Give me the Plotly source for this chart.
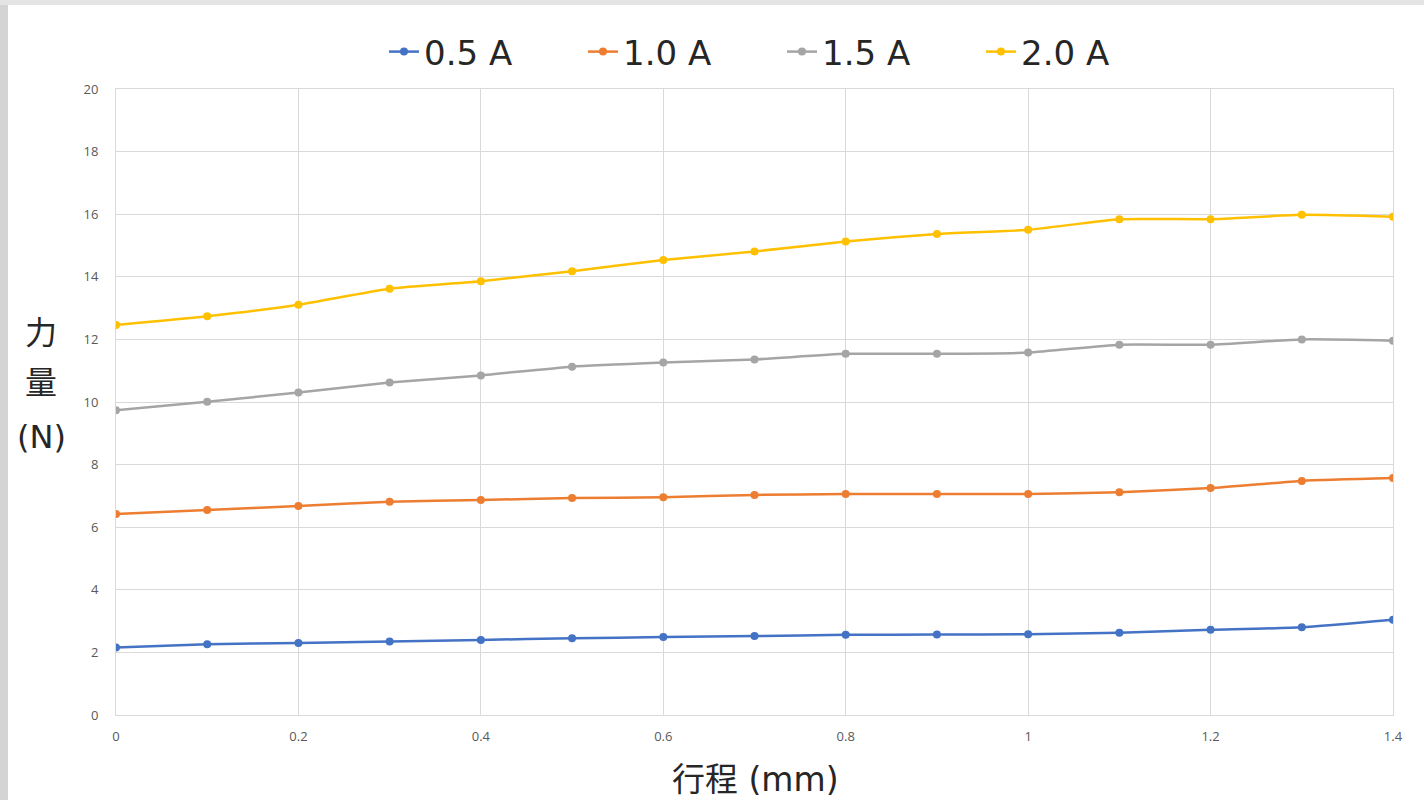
import plotly.graph_objects as go

stroke_mm = [0, 0.1, 0.2, 0.3, 0.4, 0.5, 0.6, 0.7, 0.8, 0.9, 1.0, 1.1, 1.2, 1.3, 1.4]
force_05A = [2.16, 2.26, 2.30, 2.35, 2.40, 2.45, 2.49, 2.52, 2.56, 2.57, 2.58, 2.63, 2.72, 2.80, 3.04]
force_10A = [6.42, 6.55, 6.68, 6.81, 6.87, 6.93, 6.96, 7.03, 7.06, 7.06, 7.06, 7.12, 7.25, 7.48, 7.57]
force_15A = [9.74, 10.01, 10.30, 10.62, 10.85, 11.13, 11.26, 11.36, 11.54, 11.54, 11.58, 11.83, 11.83, 12.00, 11.96]
force_20A = [12.46, 12.74, 13.11, 13.62, 13.86, 14.18, 14.54, 14.81, 15.13, 15.37, 15.50, 15.84, 15.84, 15.98, 15.92]

series_names = ["0.5 A", "1.0 A", "1.5 A", "2.0 A"]
series_values = [force_05A, force_10A, force_15A, force_20A]
colors = ["#4472C4", "#ED7D31", "#A5A5A5", "#FFC000"]
y_title_parts = ["力", "量", "(N)"]

W, H = 1424, 800
ML, MR, MT, MB = 116, 31, 89, 85
PW, PH = W - ML - MR, H - MT - MB

def px_x(p):
    return (p - ML) / PW

def px_y(p):
    return (H - MB - p) / PH

fig = go.Figure()
for name, vals, c in zip(series_names, series_values, colors):
    fig.add_trace(go.Scatter(
        x=stroke_mm, y=vals, name=name, mode="lines+markers",
        line=dict(color=c, width=2.5, shape="spline", smoothing=0.5),
        marker=dict(color=c, size=8),
    ))

grid = "#d9d9d9"
tickfont = dict(family="Open Sans, Noto Sans", size=13, color="#595959")
fig.update_xaxes(range=[0, 1.4], dtick=0.2, tick0=0, showgrid=True, gridcolor=grid, gridwidth=1,
                 zeroline=False, showline=True, mirror=True, linecolor=grid, linewidth=1,
                 tickfont=tickfont, ticks="", ticklabelstandoff=9)
fig.update_yaxes(range=[0, 20], dtick=2, tick0=0, showgrid=True, gridcolor=grid, gridwidth=1,
                 zeroline=False, showline=True, mirror=True, linecolor=grid, linewidth=1,
                 tickfont=tickfont, ticks="", ticklabelstandoff=14)

title_font = dict(family="DejaVu Sans, Noto Sans CJK TC", size=33, color="#262626")
fig.add_annotation(text="行程 (mm)", xref="paper", yref="paper", x=px_x(755), y=px_y(779),
                   xanchor="center", yanchor="middle", showarrow=False, font=title_font)
for part, py in zip(y_title_parts, [333, 383, 437]):
    fig.add_annotation(text=part, xref="paper", yref="paper", x=px_x(41), y=px_y(py),
                       xanchor="center", yanchor="middle", showarrow=False,
                       font=dict(family="DejaVu Sans, Noto Sans CJK TC", size=32, color="#262626"))

# light gray frame at the picture edges
fig.add_shape(type="rect", xref="paper", yref="paper", x0=px_x(0), x1=px_x(8), y0=px_y(800), y1=px_y(0),
              fillcolor="#d4d4d4", line=dict(width=0), layer="below")
fig.add_shape(type="rect", xref="paper", yref="paper", x0=px_x(0), x1=px_x(1424), y0=px_y(5), y1=px_y(0),
              fillcolor="#e4e4e4", line=dict(width=0), layer="below")

fig.update_layout(
    width=W, height=H,
    margin=dict(l=ML, r=MR, t=MT, b=MB),
    paper_bgcolor="white", plot_bgcolor="white",
    showlegend=True,
    legend=dict(orientation="h", x=px_x(384), y=px_y(52), xanchor="left", yanchor="middle",
                font=dict(family="DejaVu Sans", size=34, color="#262626"),
                entrywidth=154, entrywidthmode="pixels", itemwidth=30,
                bgcolor="rgba(0,0,0,0)"),
)

fig.write_html("out.html")
